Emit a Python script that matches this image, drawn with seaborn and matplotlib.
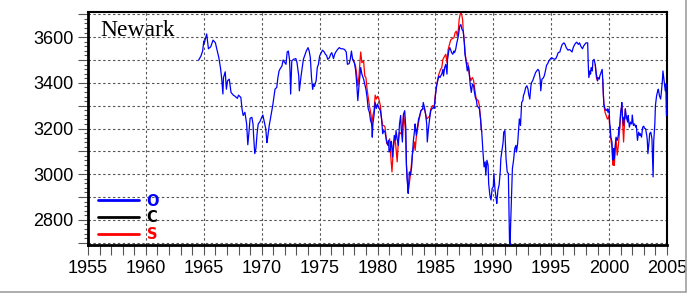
import numpy as np
import pandas as pd
import matplotlib
matplotlib.use("Agg")
import matplotlib.pyplot as plt
from matplotlib.ticker import MultipleLocator, FuncFormatter
from matplotlib.lines import Line2D
import seaborn as sns

# ---------------- data ----------------
station = "Newark"
series_labels = ["O", "C", "S"]
series_colors = ["#0000ff", "#000000", "#ff0000"]

O_years = [1964.55, 1964.75, 1964.9, 1965.0, 1965.05, 1965.2, 1965.25, 1965.4, 1965.6, 1965.8,
           1966.0, 1966.2, 1966.3, 1966.45, 1966.55, 1966.65, 1966.7, 1966.85, 1966.95, 1967.05,
           1967.2, 1967.35, 1967.55, 1967.7, 1967.9, 1968.0, 1968.2, 1968.3, 1968.4, 1968.55,
           1968.7, 1968.75, 1968.8, 1968.9, 1969.0, 1969.15, 1969.25, 1969.3, 1969.4, 1969.5,
           1969.6, 1969.7, 1969.85, 1970.0, 1970.1, 1970.2, 1970.35, 1970.45, 1970.5, 1970.65,
           1970.75, 1970.8, 1970.95, 1971.05, 1971.15, 1971.3, 1971.4, 1971.5, 1971.6, 1971.75,
           1971.85, 1972.0, 1972.1, 1972.2, 1972.3, 1972.4, 1972.45, 1972.5, 1972.6, 1972.75,
           1972.95, 1973.05, 1973.2, 1973.25, 1973.4, 1973.5, 1973.6, 1973.75, 1973.85, 1974.0,
           1974.1, 1974.2, 1974.3, 1974.4, 1974.45, 1974.55, 1974.7, 1974.8, 1974.9, 1975.0,
           1975.15, 1975.25, 1975.4, 1975.5, 1975.6, 1975.7, 1975.85, 1975.95, 1976.05, 1976.2,
           1976.3, 1976.4, 1976.55, 1976.7, 1976.85, 1977.0, 1977.15, 1977.3, 1977.4, 1977.55,
           1977.65, 1977.75, 1977.85, 1978.0, 1978.1, 1978.2, 1978.3, 1978.4, 1978.5, 1978.55,
           1978.65, 1978.8, 1978.9, 1979.0, 1979.1, 1979.2, 1979.3, 1979.4, 1979.5, 1979.55,
           1979.6, 1979.7, 1979.8, 1979.9, 1980.0, 1980.1, 1980.25, 1980.35, 1980.45, 1980.55,
           1980.65, 1980.8, 1980.9, 1980.95, 1981.0, 1981.1, 1981.15, 1981.2, 1981.3, 1981.35,
           1981.45, 1981.55, 1981.6, 1981.7, 1981.8, 1981.9, 1982.0, 1982.05, 1982.15, 1982.25,
           1982.35, 1982.45, 1982.5, 1982.55, 1982.6, 1982.65, 1982.75, 1982.85, 1982.95, 1983.0,
           1983.1, 1983.2, 1983.25, 1983.35, 1983.45, 1983.55, 1983.65, 1983.75, 1983.9, 1983.95,
           1984.05, 1984.15, 1984.25, 1984.3, 1984.4, 1984.5, 1984.6, 1984.7, 1984.85, 1984.9,
           1985.0, 1985.1, 1985.2, 1985.3, 1985.4, 1985.45, 1985.55, 1985.65, 1985.7, 1985.8,
           1985.9, 1986.0, 1986.05, 1986.15, 1986.25, 1986.35, 1986.4, 1986.5, 1986.6, 1986.65,
           1986.75, 1986.85, 1986.95, 1987.0, 1987.1, 1987.2, 1987.3, 1987.4, 1987.5, 1987.55,
           1987.65, 1987.75, 1987.85, 1987.9, 1988.0, 1988.1, 1988.2, 1988.3, 1988.35, 1988.45,
           1988.55, 1988.6, 1988.7, 1988.8, 1988.9, 1988.95, 1989.0, 1989.1, 1989.2, 1989.3,
           1989.35, 1989.45, 1989.55, 1989.6, 1989.7, 1989.8, 1989.9, 1990.0, 1990.05, 1990.15,
           1990.25, 1990.3, 1990.4, 1990.5, 1990.6, 1990.65, 1990.75, 1990.85, 1990.9, 1991.0,
           1991.1, 1991.2, 1991.3, 1991.35, 1991.4, 1991.45, 1991.5, 1991.6, 1991.65, 1991.75,
           1991.85, 1991.95, 1992.0, 1992.1, 1992.2, 1992.25, 1992.35, 1992.45, 1992.55, 1992.6,
           1992.7, 1992.8, 1992.9, 1993.0, 1993.05, 1993.15, 1993.25, 1993.3, 1993.4, 1993.5,
           1993.65, 1993.75, 1993.85, 1993.95, 1994.05, 1994.1, 1994.2, 1994.3, 1994.4, 1994.5,
           1994.6, 1994.7, 1994.8, 1994.95, 1995.05, 1995.15, 1995.3, 1995.4, 1995.5, 1995.6,
           1995.75, 1995.85, 1995.95, 1996.1, 1996.2, 1996.3, 1996.45, 1996.55, 1996.65, 1996.8,
           1996.9, 1997.05, 1997.2, 1997.35, 1997.45, 1997.55, 1997.7, 1997.8, 1997.9, 1998.0,
           1998.15, 1998.2, 1998.25, 1998.35, 1998.4, 1998.45, 1998.55, 1998.6, 1998.7, 1998.8,
           1998.9, 1999.0, 1999.05, 1999.15, 1999.2, 1999.3, 1999.4, 1999.45, 1999.5, 1999.55,
           1999.65, 1999.75, 1999.85, 1999.9, 2000.0, 2000.05, 2000.1, 2000.15, 2000.25, 2000.3,
           2000.35, 2000.4, 2000.45, 2000.5, 2000.6, 2000.7, 2000.8, 2000.85, 2000.9, 2001.0,
           2001.05, 2001.1, 2001.15, 2001.25, 2001.3, 2001.35, 2001.4, 2001.5, 2001.6, 2001.65,
           2001.75, 2001.85, 2001.95, 2002.0, 2002.1, 2002.2, 2002.3, 2002.35, 2002.45, 2002.55,
           2002.65, 2002.7, 2002.8, 2002.9, 2003.0, 2003.05, 2003.15, 2003.25, 2003.3, 2003.35,
           2003.45, 2003.5, 2003.6, 2003.7, 2003.8, 2003.85, 2003.95, 2004.0, 2004.1, 2004.2,
           2004.25, 2004.35, 2004.45, 2004.5, 2004.6, 2004.65, 2004.75, 2004.85, 2004.9, 2004.95]
O_values = [3499, 3517, 3539, 3583, 3575, 3604, 3614, 3549, 3558, 3587,
            3575, 3532, 3510, 3462, 3416, 3351, 3423, 3448, 3372, 3409,
            3416, 3358, 3346, 3341, 3332, 3346, 3336, 3286, 3257, 3271,
            3220, 3170, 3129, 3184, 3245, 3249, 3220, 3170, 3090, 3112,
            3177, 3220, 3230, 3249, 3259, 3235, 3199, 3138, 3155, 3213,
            3242, 3254, 3300, 3336, 3372, 3380, 3423, 3452, 3462, 3474,
            3500, 3488, 3481, 3535, 3539, 3503, 3445, 3351, 3496, 3503,
            3506, 3488, 3430, 3365, 3430, 3467, 3503, 3525, 3539, 3554,
            3539, 3510, 3423, 3372, 3394, 3384, 3409, 3467, 3481, 3517,
            3532, 3543, 3535, 3525, 3520, 3503, 3510, 3525, 3532, 3506,
            3525, 3535, 3546, 3554, 3549, 3549, 3546, 3535, 3481, 3484,
            3503, 3539, 3503, 3488, 3459, 3401, 3322, 3387, 3438, 3467,
            3438, 3416, 3394, 3372, 3336, 3286, 3271, 3235, 3220, 3162,
            3220, 3257, 3314, 3288, 3307, 3293, 3278, 3242, 3177, 3191,
            3184, 3141, 3126, 3148, 3097, 3104, 3141, 3144, 3075, 3112,
            3170, 3148, 3191, 3155, 3126, 3220, 3257, 3199, 3141, 3264,
            3278, 3199, 3039, 2981, 2952, 2916, 3010, 2996, 3032, 3075,
            3148, 3191, 3220, 3170, 3206, 3242, 3257, 3278, 3286, 3314,
            3293, 3264, 3220, 3141, 3199, 3242, 3278, 3286, 3293, 3288,
            3343, 3387, 3409, 3430, 3423, 3430, 3438, 3459, 3430, 3467,
            3481, 3438, 3503, 3539, 3554, 3539, 3532, 3525, 3539, 3532,
            3546, 3575, 3597, 3612, 3648, 3655, 3633, 3626, 3575, 3525,
            3496, 3452, 3474, 3459, 3394, 3358, 3394, 3387, 3365, 3336,
            3322, 3300, 3293, 3286, 3242, 3199, 3187, 3104, 3032, 3054,
            2996, 3061, 3039, 2959, 2909, 2887, 2938, 2945, 3003, 2930,
            2894, 2872, 2930, 2952, 3010, 3068, 3104, 3141, 3184, 3191,
            3068, 3010, 3003, 2851, 2706, 2690, 2786, 2938, 3025, 3061,
            3112, 3126, 3097, 3133, 3206, 3242, 3213, 3314, 3322, 3343,
            3358, 3380, 3387, 3372, 3351, 3329, 3387, 3401, 3409, 3423,
            3445, 3452, 3459, 3452, 3413, 3365, 3416, 3420, 3430, 3452,
            3477, 3484, 3496, 3506, 3510, 3506, 3503, 3506, 3517, 3532,
            3535, 3554, 3568, 3575, 3568, 3554, 3543, 3546, 3543, 3535,
            3554, 3570, 3578, 3568, 3575, 3561, 3549, 3561, 3568, 3575,
            3575, 3481, 3423, 3452, 3438, 3467, 3452, 3496, 3503, 3481,
            3438, 3409, 3423, 3416, 3430, 3445, 3459, 3416, 3351, 3307,
            3286, 3278, 3286, 3271, 3286, 3220, 3206, 3162, 3141, 3083,
            3061, 3112, 3068, 3112, 3162, 3148, 3170, 3206, 3199, 3271,
            3286, 3314, 3257, 3213, 3249, 3242, 3286, 3249, 3228, 3257,
            3206, 3228, 3220, 3259, 3213, 3220, 3206, 3213, 3148, 3184,
            3170, 3177, 3162, 3206, 3210, 3201, 3199, 3170, 3148, 3090,
            3141, 3177, 3184, 3155, 2988, 3141, 3220, 3300, 3343, 3365,
            3372, 3343, 3329, 3351, 3409, 3452, 3409, 3365, 3394, 3257]

# C is not visible in the reference (hidden below O)
C_years = []
C_values = []

S1_years = [1977.9, 1978.1, 1978.2, 1978.3, 1978.4, 1978.5, 1978.55, 1978.65, 1978.8, 1978.9,
            1979.0, 1979.1, 1979.2, 1979.3, 1979.35, 1979.45, 1979.5, 1979.6, 1979.7, 1979.8,
            1979.9, 1980.0, 1980.1, 1980.25, 1980.35, 1980.45, 1980.55, 1980.65, 1980.8, 1980.95,
            1981.05, 1981.15, 1981.25, 1981.35, 1981.45, 1981.55, 1981.6, 1981.7, 1981.8, 1981.9,
            1982.0, 1982.1, 1982.25, 1982.4, 1982.5, 1982.65, 1982.85, 1983.0, 1983.2, 1983.25,
            1983.35, 1983.55, 1983.75, 1983.9, 1984.05, 1984.25, 1984.4, 1984.5, 1984.6, 1984.75,
            1984.9, 1985.0, 1985.2, 1985.3, 1985.45, 1985.55, 1985.65, 1985.8, 1985.9, 1986.0,
            1986.1, 1986.25, 1986.35, 1986.45, 1986.6, 1986.7, 1986.8, 1986.9, 1987.0, 1987.05,
            1987.15, 1987.25, 1987.35, 1987.4, 1987.5, 1987.6, 1987.7, 1987.8, 1987.85, 1987.95,
            1988.05, 1988.1, 1988.2, 1988.3, 1988.4, 1988.5, 1988.55, 1988.7, 1988.8, 1988.85,
            1988.95, 1989.0]
S1_values = [3503, 3474, 3438, 3387, 3430, 3503, 3535, 3488, 3496, 3430,
             3423, 3372, 3336, 3300, 3286, 3257, 3213, 3257, 3278, 3346,
             3329, 3341, 3332, 3300, 3242, 3213, 3213, 3206, 3133, 3141,
             3155, 3075, 3010, 3097, 3148, 3141, 3112, 3054, 3148, 3184,
             3177, 3184, 3264, 3199, 3039, 2923, 3000, 3083, 3141, 3104,
             3162, 3228, 3278, 3286, 3286, 3242, 3249, 3254, 3286, 3300,
             3297, 3351, 3416, 3438, 3459, 3467, 3503, 3517, 3525, 3488,
             3546, 3575, 3590, 3593, 3597, 3619, 3626, 3604, 3641, 3677,
             3703, 3703, 3677, 3633, 3575, 3517, 3481, 3488, 3467, 3430,
             3409, 3416, 3423, 3409, 3372, 3336, 3329, 3322, 3300, 3268,
             3213, 3187]
S2_years = [1998.8, 1998.9, 1999.0]
S2_values = [3481, 3423, 3409]
S3_years = [1999.45, 1999.55, 1999.65, 1999.75, 1999.85, 1999.9, 2000.0, 2000.05, 2000.1, 2000.15,
            2000.25, 2000.3, 2000.35, 2000.4, 2000.45, 2000.5, 2000.6, 2000.7, 2000.8, 2000.9,
            2001.0, 2001.1, 2001.25, 2001.35, 2001.4]
S3_values = [3416, 3300, 3271, 3257, 3242, 3242, 3257, 3206, 3177, 3155,
             3112, 3061, 3039, 3075, 3039, 3083, 3155, 3083, 3126, 3184,
             3271, 3300, 3141, 3242, 3286]

x_ticks = [1955, 1960, 1965, 1970, 1975, 1980, 1985, 1990, 1995, 2000, 2005]
y_label_ticks = [2800, 3000, 3200, 3400, 3600]

# ---------------- figure ----------------
sns.set_theme(style="white")
plt.rcParams["font.family"] = ["Liberation Sans", "DejaVu Sans"]

fig = plt.figure(figsize=(6.88, 2.94), dpi=100)
ax = fig.add_axes([88 / 688, 1 - 245 / 294, (667 - 88) / 688, (245 - 12) / 294])

s_df = pd.concat([
    pd.DataFrame({"year": S1_years, "value": S1_values, "seg": 1}),
    pd.DataFrame({"year": S2_years, "value": S2_values, "seg": 2}),
    pd.DataFrame({"year": S3_years, "value": S3_values, "seg": 3}),
])
o_df = pd.DataFrame({"year": O_years, "value": O_values, "seg": 0})

sns.lineplot(data=s_df, x="year", y="value", units="seg", estimator=None, sort=False,
             color=series_colors[2], linewidth=0.9, ax=ax, zorder=3)
if len(C_years):
    sns.lineplot(x=C_years, y=C_values, color=series_colors[1], linewidth=0.9, ax=ax, zorder=4)
sns.lineplot(data=o_df, x="year", y="value", units="seg", estimator=None, sort=False,
             color=series_colors[0], linewidth=0.9, ax=ax, zorder=5)

ax.set_xlim(1955, 2005)
ax.set_ylim(2690, 3710)
ax.set_xticks(x_ticks)
ax.set_xlabel("")
ax.set_ylabel("")

ax.xaxis.set_minor_locator(MultipleLocator(1))
ax.yaxis.set_major_locator(MultipleLocator(100))
ax.yaxis.set_minor_locator(MultipleLocator(20))
ax.yaxis.set_major_formatter(FuncFormatter(lambda v, p: f"{int(round(v))}" if int(round(v)) in y_label_ticks else ""))
ax.xaxis.set_major_formatter(FuncFormatter(lambda v, p: f"{int(round(v))}"))

ax.tick_params(axis="x", which="both", direction="out", length=7.5, width=0.8,
               color="#555555", labelsize=13, pad=3, bottom=True)
ax.tick_params(axis="y", which="major", direction="out", length=7.5, width=0.8,
               color="#555555", labelsize=13, pad=3, left=True)
ax.tick_params(axis="y", which="minor", direction="out", length=3, width=0.8,
               color="#555555", left=True)
for lab in ax.get_xticklabels() + ax.get_yticklabels():
    lab.set_color("black")

ax.grid(True, which="major", color="#555555", linestyle=(0, (2.2, 2.2)), linewidth=0.8)
for sp in ax.spines.values():
    sp.set_visible(True)
    sp.set_color("black")
    sp.set_linewidth(1.5)
ax.spines["left"].set_linewidth(2.0)
ax.spines["bottom"].set_linewidth(2.0)

ax.text(0.021, 0.965, station, transform=ax.transAxes, ha="left", va="top",
        fontsize=17, family=["Liberation Serif", "DejaVu Serif"], color="black", zorder=6)

handles = [Line2D([0], [0], color=c, linewidth=2.0) for c in series_colors]
leg = ax.legend(handles, series_labels, loc="lower left", frameon=False,
                bbox_to_anchor=(0.012, 0.0), borderaxespad=0.0, borderpad=0.2,
                handlelength=2.8, handletextpad=0.55, labelspacing=0.12,
                prop={"weight": "bold", "size": 10.5, "family": ["DejaVu Sans"]},
                labelcolor=series_colors)

# light grey frame lines at right and bottom of the figure
fig.add_artist(Line2D([686 / 688, 686 / 688], [1 - 292 / 294, 1.0], color="#a0a0a0", linewidth=1.2,
                      transform=fig.transFigure))
fig.add_artist(Line2D([0, 686 / 688], [1 - 292 / 294, 1 - 292 / 294], color="#a0a0a0", linewidth=1.2,
                      transform=fig.transFigure))

fig.savefig("out.png", dpi=100)
